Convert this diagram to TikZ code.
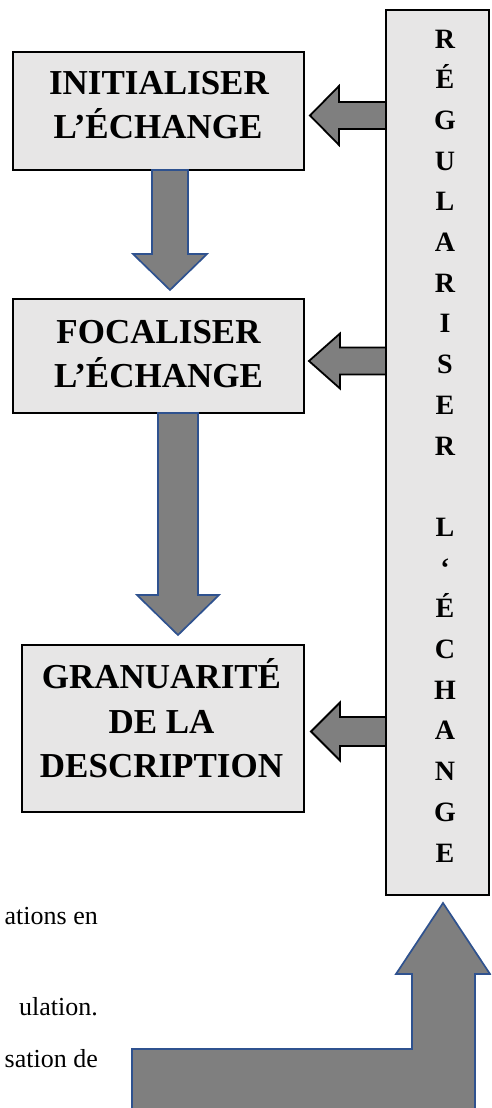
\documentclass[tikz,border=0pt]{standalone}
\usepackage{fontspec}
\setmainfont{Liberation Serif}
\definecolor{boxgray}{HTML}{E7E6E6}
\definecolor{arrgray}{HTML}{7F7F7F}
\definecolor{arrblue}{HTML}{2F528F}
\tikzset{
  box/.style={draw=black, line width=1.6pt, fill=boxgray, inner sep=0pt},
  boxtext/.style={font=\bfseries\fontsize{35}{43}\selectfont, inner sep=0pt, anchor=base},
  coltext/.style={font=\bfseries\fontsize{28}{40.7}\selectfont, inner sep=0pt, align=center, anchor=north},
  sidetext/.style={font=\fontsize{26}{30}\selectfont, inner sep=0pt, anchor=base east},
  blackarrow/.style={draw=black, line width=1.8pt, fill=arrgray, line join=miter},
  bluearrow/.style={draw=arrblue, line width=1.7pt, fill=arrgray, line join=miter}
}
% left-pointing block arrow: style, tail x, tip x, y, shaft half, head half, head length
\newcommand{\leftblock}[7]{%
  \draw[#1] (#2,{#4-#5}) -- ({#3+#7},{#4-#5}) -- ({#3+#7},{#4-#6}) -- (#3,#4)
    -- ({#3+#7},{#4+#6}) -- ({#3+#7},{#4+#5}) -- (#2,{#4+#5}) -- cycle;}
% down-pointing block arrow: style, x, top y, tip y, shaft half, head half, head length
\newcommand{\downblock}[7]{%
  \draw[#1] ({#2-#5},#3) -- ({#2-#5},{#4-#7}) -- ({#2-#6},{#4-#7}) -- (#2,#4)
    -- ({#2+#6},{#4-#7}) -- ({#2+#5},{#4-#7}) -- ({#2+#5},#3) -- cycle;}
\begin{document}
\begin{tikzpicture}[x=1pt,y=-1pt]
\path[use as bounding box] (0,0) rectangle (491,1108);
\clip (0,0) rectangle (491,1108);

% boxes
\node[box, minimum width=291pt, minimum height=118pt] (b1) at (158.5,111) {};
\node[box, minimum width=291pt, minimum height=114pt] (b2) at (158.5,356) {};
\node[box, minimum width=282pt, minimum height=167pt] (b3) at (163,728.5) {};
\node[box, minimum width=103pt, minimum height=885pt] (col) at (437.5,452.5) {};

% box texts
\node[boxtext] (b1a) at (159,95) {INITIALISER};
\node[boxtext] (b1b) at (158,138) {L’ÉCHANGE};
\node[boxtext] (b2a) at (158.5,343) {FOCALISER};
\node[boxtext] (b2b) at (158.5,387) {L’ÉCHANGE};
\node[boxtext] (b3a) at (161.5,688) {GRANUARITÉ};
\node[boxtext] (b3b) at (161.5,733) {DE LA};
\node[boxtext] (b3c) at (161.5,777) {DESCRIPTION};

% column text
\node[coltext] (ct) at (445,29.5) {R\\É\\G\\U\\L\\A\\R\\I\\S\\E\\R\\\mbox{}\\L\\‘\\É\\C\\H\\A\\N\\G\\E};

% left arrows from column
\leftblock{blackarrow}{386}{310}{115.5}{13.5}{29.5}{29}
\leftblock{blackarrow}{386}{309}{361}{13.5}{27.5}{31}
\leftblock{blackarrow}{386}{311}{731.5}{14.5}{29}{29}

% down arrows
\downblock{bluearrow}{170}{170}{290}{18}{37}{36}
\downblock{bluearrow}{178}{413}{635}{20}{41}{40}

% bottom L-shaped arrow
\draw[bluearrow] (132,1130) -- (132,1049) -- (412,1049) -- (412,974) -- (396,974)
  -- (443,903) -- (490,974) -- (475,974) -- (475,1130) -- cycle;

% partial side text
\node[sidetext] (s1) at (98,924) {ations en};
\node[sidetext] (s2) at (98,1015) {ulation.};
\node[sidetext] (s3) at (98,1067) {sation de};
\end{tikzpicture}
\end{document}
